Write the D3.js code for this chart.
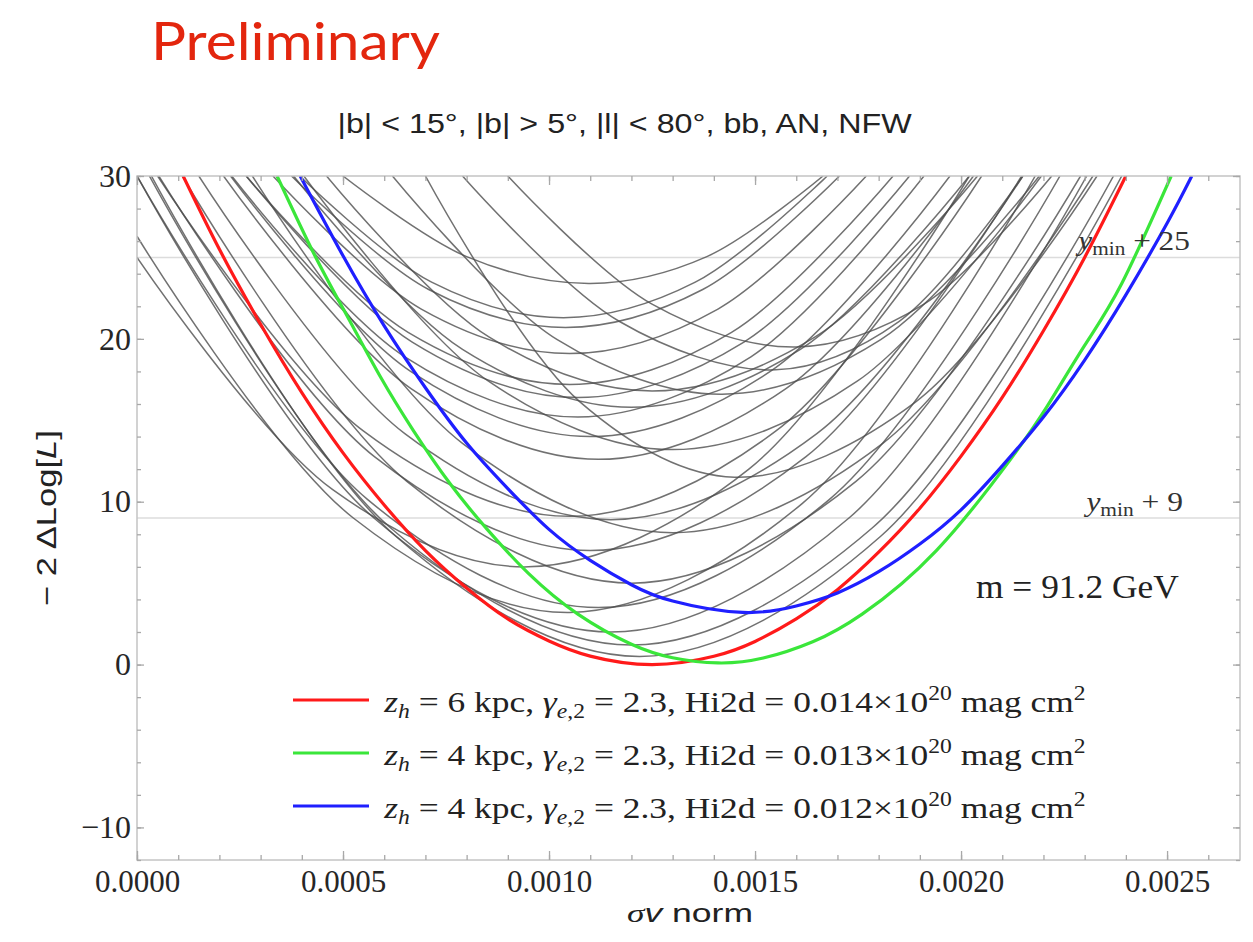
<!DOCTYPE html>
<html>
<head>
<meta charset="utf-8">
<script src="https://cdnjs.cloudflare.com/ajax/libs/d3/7.8.5/d3.min.js"></script>
<style>
  body { margin: 0; background: #fff; overflow: hidden; }
  svg { display: block; }
</style>
</head>
<body>
<svg id="chart" width="1253" height="942"></svg>
<script>
// values
const xTicks = [0, 0.0005, 0.0010, 0.0015, 0.0020, 0.0025];
const xTickLabels = ["0.0000", "0.0005", "0.0010", "0.0015", "0.0020", "0.0025"];
const yTicks = [-10, 0, 10, 20, 30];
const yTickLabels = ["\u221210", "0", "10", "20", "30"];
const refLevels = [25, 9];
const refLabels = ["+ 25", "+ 9"];

const redCurve = [[0.112e-3, 30], [0.2e-3, 25.5], [0.3e-3, 20.9], [0.4e-3, 16.7], [0.5e-3, 13.0],
  [0.6e-3, 9.8], [0.7e-3, 7.0], [0.8e-3, 4.7], [0.9e-3, 2.8], [1.0e-3, 1.45], [1.1e-3, 0.52],
  [1.25e-3, 0], [1.4e-3, 0.51], [1.5e-3, 1.42], [1.6e-3, 2.8], [1.7e-3, 4.6], [1.8e-3, 6.9],
  [1.9e-3, 9.6], [2.0e-3, 12.8], [2.1e-3, 16.4], [2.2e-3, 20.5], [2.3e-3, 25.0], [2.4e-3, 30]];
const greenCurve = [[0.34e-3, 30], [0.43e-3, 25.2], [0.51e-3, 21.4], [0.59e-3, 17.7], [0.67e-3, 14.4],
  [0.76e-3, 11.1], [0.85e-3, 8.3], [0.95e-3, 5.6], [1.07e-3, 3.1], [1.20e-3, 1.25], [1.30e-3, 0.42],
  [1.41e-3, 0.1], [1.52e-3, 0.4], [1.64e-3, 1.4], [1.76e-3, 3.1], [1.94e-3, 7.0], [2.12e-3, 12.6],
  [2.21e-3, 15.9], [2.30e-3, 19.6], [2.39e-3, 23.4], [2.51e-3, 30]];
const blueCurve = [[0.396e-3, 30], [0.5e-3, 25.1], [0.6e-3, 20.8], [0.7e-3, 17.0], [0.8e-3, 13.6],
  [0.9e-3, 10.8], [1.0e-3, 8.3], [1.1e-3, 6.4], [1.2e-3, 4.9], [1.3e-3, 3.9], [1.47e-3, 3.2],
  [1.6e-3, 3.6], [1.7e-3, 4.4], [1.8e-3, 5.7], [1.9e-3, 7.4], [2.0e-3, 9.5], [2.1e-3, 12.2],
  [2.2e-3, 15.2], [2.3e-3, 18.7], [2.4e-3, 22.7], [2.5e-3, 27.1], [2.56e-3, 30]];

const blackCurves = [
  [[0.50e-3, 30], [0.80e-3, 25.05], [1.10e-3, 23.4], [1.383e-3, 25.05], [1.665e-3, 30]],
  [[0.395e-3, 30], [0.715e-3, 23.48], [1.035e-3, 21.3], [1.355e-3, 23.48], [1.675e-3, 30]],
  [[0.375e-3, 30], [0.708e-3, 23.03], [1.04e-3, 20.7], [1.373e-3, 23.03], [1.705e-3, 30]],
  [[0.33e-3, 30], [0.69e-3, 21.83], [1.05e-3, 19.1], [1.41e-3, 21.83], [1.77e-3, 30]],
  [[0.79e-3, 30], [1.17e-3, 21.08], [1.55e-3, 18.1], [1.85e-3, 21.08], [2.15e-3, 30]],
  [[0.265e-3, 30], [0.658e-3, 20.4], [1.05e-3, 17.2], [1.443e-3, 20.4], [1.835e-3, 30]],
  [[0.265e-3, 30], [0.668e-3, 19.8], [1.07e-3, 16.4], [1.473e-3, 19.8], [1.875e-3, 30]],
  [[0.38e-3, 30], [0.79e-3, 19.35], [1.20e-3, 15.8], [1.61e-3, 19.35], [2.02e-3, 30]],
  [[0.23e-3, 30], [0.65e-3, 18.9], [1.07e-3, 15.2], [1.49e-3, 18.9], [1.91e-3, 30]],
  [[0.227e-3, 30], [0.664e-3, 18], [1.10e-3, 14], [1.537e-3, 18], [1.973e-3, 30]],
  [[0.405e-3, 30], [0.853e-3, 17.4], [1.30e-3, 13.2], [1.748e-3, 17.4], [2.195e-3, 30]],
  [[0.21e-3, 30], [0.665e-3, 16.95], [1.12e-3, 12.6], [1.575e-3, 16.95], [2.03e-3, 30]],
  [[0.70e-3, 30], [1.075e-3, 16.13], [1.45e-3, 11.5], [1.89e-3, 16.13], [2.33e-3, 30]],
  [[0.05e-3, 30], [0.55e-3, 14.33], [1.05e-3, 9.1], [1.55e-3, 14.33], [2.05e-3, 30]],
  [[0.15e-3, 30], [0.65e-3, 14.18], [1.15e-3, 8.9], [1.65e-3, 14.18], [2.15e-3, 30]],
  [[0.28e-3, 30], [0.79e-3, 13.58], [1.30e-3, 8.1], [1.81e-3, 13.58], [2.32e-3, 30]],
  [[0, 25.0], [0.475e-3, 10.74], [0.95e-3, 6.0], [1.485e-3, 12], [2.02e-3, 30]],
  [[0, 26.3], [0.525e-3, 9.0], [1.05e-3, 3.2], [1.615e-3, 9.9], [2.18e-3, 30]],
  [[0, 30], [0.56e-3, 10.13], [1.12e-3, 3.5], [1.68e-3, 10.13], [2.24e-3, 30]],
  [[0, 30], [0.575e-3, 9], [1.15e-3, 2], [1.728e-3, 9], [2.305e-3, 30]],
  [[0.03e-3, 30], [0.615e-3, 8.4], [1.20e-3, 1.2], [1.785e-3, 8.4], [2.37e-3, 30]],
  [[0.035e-3, 30], [0.628e-3, 7.88], [1.22e-3, 0.5], [1.805e-3, 7.88], [2.39e-3, 30]],
  [[0.11e-3, 30], [0.655e-3, 11.25], [1.20e-3, 5], [1.745e-3, 11.25], [2.29e-3, 30]],
  [[0.053e-3, 30], [0.577e-3, 12.75], [1.10e-3, 7], [1.623e-3, 12.75], [2.147e-3, 30]],
  [[0.90e-3, 30], [1.25e-3, 22.13], [1.60e-3, 19.5], [1.91e-3, 22.13], [2.22e-3, 30]],
  [[0.62e-3, 30], [1.02e-3, 19.95], [1.42e-3, 16.6], [1.805e-3, 19.95], [2.19e-3, 30]],
  [[0.46e-3, 30], [0.855e-3, 20.1], [1.25e-3, 16.8], [1.645e-3, 20.1], [2.04e-3, 30]]
];

const legendItems = [
  { color: "#ff1a1a", zh: "6", hi: "0.014" },
  { color: "#3ae63a", zh: "4", hi: "0.013" },
  { color: "#1f1fff", zh: "4", hi: "0.012" }
];

const W = 1253, H = 942;
const plot = { left: 137, right: 1240, top: 176, bottom: 860 };
const serif = "'Liberation Serif', 'DejaVu Serif', serif";
const sans = "'Liberation Sans', Arial, sans-serif";

const svg = d3.select("#chart");
svg.append("rect").attr("width", W).attr("height", H).attr("fill", "#fff");

const x = d3.scaleLinear().domain([0, 0.002677]).range([plot.left, plot.right]);
const y = d3.scaleLinear().domain([-12, 30]).range([plot.bottom, plot.top]);

svg.append("defs").append("clipPath").attr("id", "clip")
  .append("rect")
  .attr("x", plot.left).attr("y", plot.top)
  .attr("width", plot.right - plot.left).attr("height", plot.bottom - plot.top);

// stretch a text group horizontally so it spans the width seen in the picture
function fitText(g, width, x0, y0, anchor) {
  const bb = g.node().getBBox();
  const k = width / bb.width;
  const dx = anchor === "middle" ? x0 - (bb.x + bb.width / 2) * k : x0 - bb.x * k;
  g.attr("transform", `translate(${dx},${y0}) scale(${k},1)`);
}

// reference lines ymin + 25, ymin + 9
svg.selectAll(".ref")
  .data(refLevels)
  .enter().append("line")
  .attr("class", "ref")
  .attr("x1", plot.left).attr("x2", plot.right)
  .attr("y1", d => y(d)).attr("y2", d => y(d))
  .attr("stroke", "#dcdcdc").attr("stroke-width", 1.5);

const blackLine = d3.line()
  .x(d => x(d[0]))
  .y(d => y(d[1]))
  .curve(d3.curveCatmullRom.alpha(0.5));
const colorLine = d3.line()
  .x(d => x(d[0]))
  .y(d => y(d[1]))
  .curve(d3.curveNatural);

const curves = svg.append("g").attr("clip-path", "url(#clip)");

curves.selectAll(".bk")
  .data(blackCurves)
  .enter().append("path")
  .attr("class", "bk")
  .attr("d", blackLine)
  .attr("fill", "none")
  .attr("stroke", "#4d4d4d")
  .attr("stroke-opacity", 0.8)
  .attr("stroke-width", 1.5);

[redCurve, greenCurve, blueCurve].forEach((c, i) => {
  curves.append("path")
    .attr("d", colorLine(c))
    .attr("fill", "none")
    .attr("stroke", legendItems[i].color)
    .attr("stroke-width", 3.2);
});

// frame
svg.append("rect")
  .attr("x", plot.left).attr("y", plot.top)
  .attr("width", plot.right - plot.left).attr("height", plot.bottom - plot.top)
  .attr("fill", "none").attr("stroke", "#c4c4c4").attr("stroke-width", 1.5);

const xMinor = d3.range(0, 0.00268, 0.0001);
const yMinor = d3.range(-12, 30.1, 2);

function styleAxis(g) {
  g.select(".domain").remove();
  g.selectAll(".tick line").attr("stroke", "#a8a8a8").attr("stroke-width", 1.3);
}

// bottom
svg.append("g").attr("transform", `translate(0,${plot.bottom})`)
  .call(d3.axisBottom(x).tickValues(xMinor).tickSizeInner(-5).tickSizeOuter(0).tickFormat(""))
  .call(styleAxis);
svg.append("g").attr("transform", `translate(0,${plot.bottom})`)
  .call(d3.axisBottom(x).tickValues(xTicks).tickSizeInner(-9).tickSizeOuter(0).tickPadding(10)
    .tickFormat((d, i) => xTickLabels[i]))
  .call(styleAxis)
  .selectAll("text").attr("font-family", serif).attr("font-size", 31).attr("fill", "#262626");
// top
svg.append("g").attr("transform", `translate(0,${plot.top})`)
  .call(d3.axisTop(x).tickValues(xMinor).tickSizeInner(-5).tickSizeOuter(0).tickFormat(""))
  .call(styleAxis);
svg.append("g").attr("transform", `translate(0,${plot.top})`)
  .call(d3.axisTop(x).tickValues(xTicks).tickSizeInner(-9).tickSizeOuter(0).tickFormat(""))
  .call(styleAxis);
// left
svg.append("g").attr("transform", `translate(${plot.left},0)`)
  .call(d3.axisLeft(y).tickValues(yMinor).tickSizeInner(-4).tickSizeOuter(0).tickFormat(""))
  .call(styleAxis);
svg.append("g").attr("transform", `translate(${plot.left},0)`)
  .call(d3.axisLeft(y).tickValues(yTicks).tickSizeInner(-7).tickSizeOuter(0).tickPadding(6)
    .tickFormat((d, i) => yTickLabels[i]))
  .call(styleAxis)
  .selectAll("text").attr("font-family", serif).attr("font-size", 32).attr("fill", "#262626");
// right
svg.append("g").attr("transform", `translate(${plot.right},0)`)
  .call(d3.axisRight(y).tickValues(yMinor).tickSizeInner(-4).tickSizeOuter(0).tickFormat(""))
  .call(styleAxis);
svg.append("g").attr("transform", `translate(${plot.right},0)`)
  .call(d3.axisRight(y).tickValues(yTicks).tickSizeInner(-7).tickSizeOuter(0).tickFormat(""))
  .call(styleAxis);

// reference line labels
const refWidths = [115, 100];
const refStarts = [1075, 1083];
refLevels.forEach((lv, i) => {
  const g = svg.append("g");
  const t = g.append("text")
    .attr("font-family", serif).attr("font-size", 28).attr("fill", "#333");
  t.append("tspan").attr("font-style", "italic").text("y");
  t.append("tspan").attr("font-size", 19).attr("dy", 5).text("min");
  t.append("tspan").attr("dy", -5).text(" " + refLabels[i]);
  fitText(g, refWidths[i], refStarts[i], y(lv) - 7, "start");
});

// mass label
const mg = svg.append("g");
mg.append("text")
  .attr("font-family", serif).attr("font-size", 33).attr("fill", "#222")
  .text("m = 91.2 GeV");
fitText(mg, 203, 976, 598, "start");

// legend
legendItems.forEach((item, i) => {
  const ly = 700 + i * 53;
  svg.append("line")
    .attr("x1", 293).attr("x2", 369).attr("y1", ly).attr("y2", ly)
    .attr("stroke", item.color).attr("stroke-width", 3.2);
  const g = svg.append("g");
  const t = g.append("text")
    .attr("font-family", serif).attr("font-size", 30).attr("fill", "#222");
  t.append("tspan").attr("font-style", "italic").text("z");
  t.append("tspan").attr("font-style", "italic").attr("font-size", 20).attr("dy", 6).text("h");
  t.append("tspan").attr("dy", -6).text(" = " + item.zh + " kpc, ");
  t.append("tspan").attr("font-style", "italic").text("\u03b3");
  t.append("tspan").attr("font-size", 20).attr("dy", 6)
    .html('<tspan font-style="italic">e</tspan>,2');
  t.append("tspan").attr("dy", -6).text(" = 2.3, Hi2d = " + item.hi + "\u00d710");
  t.append("tspan").attr("font-size", 20).attr("dy", -12).text("20");
  t.append("tspan").attr("dy", 12).text(" mag cm");
  t.append("tspan").attr("font-size", 20).attr("dy", -12).text("2");
  fitText(g, 703, 383, ly + 12, "start");
});

// titles
const tg = svg.append("g");
tg.append("text")
  .attr("font-family", sans).attr("font-size", 28).attr("fill", "#222")
  .text("|b| < 15\u00b0, |b| > 5\u00b0, |l| < 80\u00b0, bb, AN, NFW");
fitText(tg, 575, 625, 133, "middle");

svg.append("text")
  .attr("x", 151).attr("y", 60)
  .attr("font-family", "Lato, 'Open Sans', sans-serif").attr("font-size", 52)
  .attr("fill", "#e3260e")
  .attr("textLength", 289).attr("lengthAdjust", "spacingAndGlyphs")
  .text("Preliminary");

const xg = svg.append("g");
const xt = xg.append("text")
  .attr("font-family", sans).attr("font-size", 26).attr("fill", "#222");
xt.append("tspan").attr("font-family", serif).attr("font-style", "italic").text("\u03c3");
xt.append("tspan").attr("font-style", "italic").text("v");
xt.append("tspan").text(" norm");
fitText(xg, 126, 690, 922, "middle");

// y label: stretched along its length, then rotated
const yOuter = svg.append("g")
  .attr("transform", `translate(56,${(plot.top + plot.bottom) / 2}) rotate(-90)`);
const yg = yOuter.append("g");
const yt = yg.append("text")
  .attr("font-family", sans).attr("font-size", 28).attr("fill", "#222");
yt.append("tspan").text("\u2212 2 \u0394Log[");
yt.append("tspan").attr("font-style", "italic").text("L");
yt.append("tspan").text("]");
fitText(yg, 176, 0, 0, "middle");
</script>
</body>
</html>
